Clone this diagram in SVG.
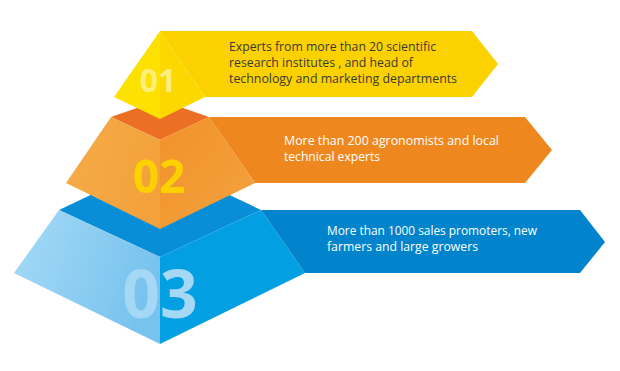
<svg xmlns="http://www.w3.org/2000/svg" width="620" height="371" viewBox="0 0 620 371">
  <defs>
    <linearGradient id="gBlueL" x1="0" y1="0" x2="1" y2="0.3">
      <stop offset="0" stop-color="#a6daf6"/>
      <stop offset="1" stop-color="#78c3ee"/>
    </linearGradient>
    <linearGradient id="gOrangeL" x1="0" y1="0" x2="1" y2="0.3">
      <stop offset="0" stop-color="#f5ac48"/>
      <stop offset="1" stop-color="#f3a23b"/>
    </linearGradient>
    <linearGradient id="gOrangeR" x1="0" y1="0" x2="1" y2="1">
      <stop offset="0" stop-color="#f1922a"/>
      <stop offset="1" stop-color="#f3a23e"/>
    </linearGradient>
  </defs>
  <style>
    .num { font-family: "Open Sans", "Liberation Sans", sans-serif; font-weight: bold; text-anchor: middle; }
    .lbl { font-family: "Open Sans", "Noto Sans", "Liberation Sans", sans-serif; font-size: 12.5px; }
  </style>
  <rect width="620" height="371" fill="#ffffff"/>

  <g id="tier3">
    <polygon points="59,210 160,162 261,210 160,257" fill="#088ed6"/>
    <polygon points="59,210 160,257 160,344 14,273" fill="url(#gBlueL)"/>
    <polygon points="160,257 261,210 305,273 160,344" fill="#029fe3"/>
    <polygon points="261,210 580,210 605,242 580,273 305,273" fill="#0184cc"/>
    <text class="num" x="160" y="318" font-size="66" fill="#a4d8f5">03</text>
    <text class="lbl" fill="#ffffff"><tspan x="327" y="235" textLength="210" lengthAdjust="spacingAndGlyphs">More than 1000 sales promoters, new</tspan><tspan x="327" y="251" textLength="151" lengthAdjust="spacingAndGlyphs">farmers and large growers</tspan></text>
  </g>

  <g id="tier2">
    <polygon points="111,117 160,100 209,117 160,140" fill="#ec7024"/>
    <polygon points="111,117 160,140 160,229 66,183" fill="url(#gOrangeL)"/>
    <polygon points="160,140 209,117 255,183 160,229" fill="url(#gOrangeR)"/>
    <polygon points="209,117 525,117 552,150 525,183 255,183" fill="#ef871f"/>
    <text class="num" x="159" y="193" font-size="46" fill="#fdd000">02</text>
    <text class="lbl" fill="#ffffff"><tspan x="284" y="145" textLength="215" lengthAdjust="spacingAndGlyphs">More than 200 agronomists and local</tspan><tspan x="284" y="161" textLength="96" lengthAdjust="spacingAndGlyphs">technical experts</tspan></text>
  </g>

  <g id="tier1">
    <polygon points="160,31 114,97 160,119" fill="#fde100"/>
    <polygon points="160,31 205,97 160,119" fill="#fdd800"/>
    <polygon points="160,31 472,31 498,64 472,97 205,97" fill="#fcd100"/>
    <text class="num" x="158" y="92" font-size="32" fill="#fdef7c">01</text>
    <text class="lbl" fill="#3a3a3a"><tspan x="229" y="51" textLength="207" lengthAdjust="spacingAndGlyphs">Experts from more than 20 scientific</tspan><tspan x="229" y="67" textLength="184" lengthAdjust="spacingAndGlyphs">research institutes , and head of</tspan><tspan x="229" y="83" textLength="228" lengthAdjust="spacingAndGlyphs">technology and marketing departments</tspan></text>
  </g>
</svg>
